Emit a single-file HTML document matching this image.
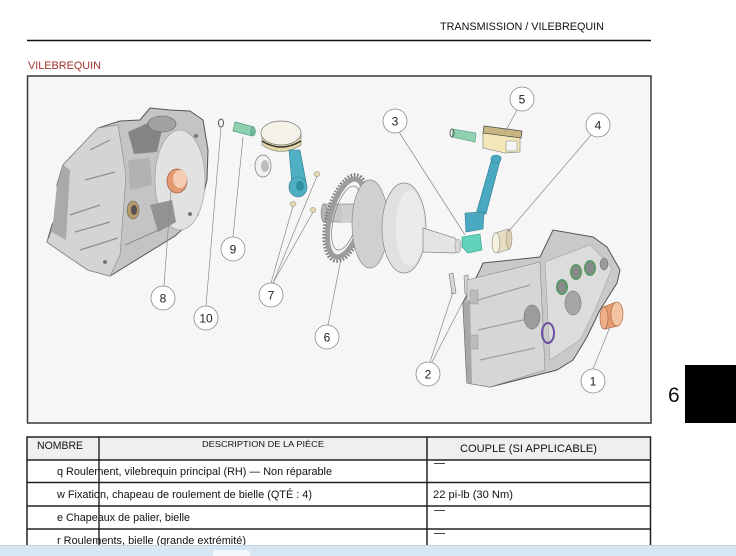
<!DOCTYPE html>
<html><head><meta charset="utf-8"><style>
html,body{margin:0;padding:0;background:#fff;}
svg{display:block;font-family:"Liberation Sans",Arial,sans-serif;}
</style></head><body>
<svg width="736" height="556" viewBox="0 0 736 556" xmlns="http://www.w3.org/2000/svg">
<rect width="736" height="556" fill="#fff"/>
<!-- header -->
<text x="440" y="30" font-size="11" fill="#111" textLength="164" lengthAdjust="spacingAndGlyphs">TRANSMISSION / VILEBREQUIN</text>
<line x1="27" y1="40.5" x2="651" y2="40.5" stroke="#111" stroke-width="1.4"/>
<text x="28" y="69" font-size="11" fill="#a3332b" textLength="73" lengthAdjust="spacingAndGlyphs">VILEBREQUIN</text>

<!-- frame -->
<rect x="27.5" y="76" width="623.5" height="347" fill="#f6f6f6" stroke="#3a3a3a" stroke-width="1.5"/>

<!-- LEFT CRANKCASE -->
<path d="M63,165 L98,128 L120,121 L140,120 L150,108 L170,110 L190,111 L203,120 L208,150 L207,180 L198,215 L175,236 L110,276 L88,270 L70,258 L47,242 L52,225 L60,210 L57,185 Z" fill="#c4c4c4" stroke="#555" stroke-width="1"/>
<path d="M63,165 L98,128 L118,125 L126,175 L120,255 L110,276 L88,270 L70,258 L47,242 L60,210 Z" fill="#d4d4d4" stroke="#888" stroke-width="0.6"/>
<path d="M57,185 L63,165 L70,170 L66,240 L52,232 Z" fill="#aaaaaa"/>
<ellipse cx="180" cy="180" rx="25" ry="50" fill="#e2e2e2" stroke="#999" stroke-width="0.6"/>
<path d="M128,132 L150,122 L162,130 L157,152 L134,154 Z" fill="#858585"/>
<ellipse cx="162" cy="124" rx="14" ry="8" fill="#a2a2a2" stroke="#666" stroke-width="0.6"/>
<path d="M150,205 L172,200 L176,222 L158,232 Z" fill="#939393"/>
<path d="M128,160 L150,158 L152,185 L130,190 Z" fill="#b2b2b2"/>
<path d="M70,215 L100,205 M75,232 L110,222 M80,250 L118,238 M125,245 L170,225 M90,150 L110,140 M85,180 L115,172" stroke="#8f8f8f" stroke-width="1.2" fill="none"/>
<ellipse cx="133" cy="210" rx="6" ry="9" fill="#b49a6a" stroke="#666" stroke-width="0.6"/>
<ellipse cx="134" cy="210" rx="3" ry="5" fill="#555"/>
<circle cx="105" cy="262" r="2" fill="#777"/>
<circle cx="190" cy="214" r="2" fill="#777"/>
<circle cx="196" cy="136" r="2" fill="#777"/>
<ellipse cx="177" cy="181" rx="10" ry="12" fill="#e39a72" stroke="#a4603e" stroke-width="0.7"/>
<ellipse cx="180" cy="179" rx="7" ry="9" fill="#f5cdb2"/>

<!-- ring 10, pin 9 -->
<ellipse cx="221" cy="123" rx="2.5" ry="4" fill="none" stroke="#555" stroke-width="1"/>
<path d="M235,122 L254,127 L252,136 L233,131 Z" fill="#8fd0b0" stroke="#4a9a7c" stroke-width="0.7"/>
<ellipse cx="253" cy="131.5" rx="2.5" ry="4.5" fill="#6fb898" stroke="#4a9a7c" stroke-width="0.5"/>

<!-- left piston & rod -->
<path d="M262,134 L262,145 Q281,158 301,145 L301,134 Z" fill="#e6d7a8" stroke="#777" stroke-width="0.6"/>
<path d="M262,141 Q281,153 301,141" fill="none" stroke="#333" stroke-width="1.5"/>
<ellipse cx="281" cy="133" rx="20" ry="12" fill="#f5f2ea" stroke="#777" stroke-width="0.7"/>
<ellipse cx="263" cy="166" rx="8" ry="11" fill="#f2f2f2" stroke="#777" stroke-width="0.7"/>
<ellipse cx="265" cy="166" rx="4" ry="6" fill="#bdbdbd"/>
<path d="M289,150 L300,150 L306,182 L292,184 Z" fill="#4fb0c4" stroke="#2a7a8a" stroke-width="0.6"/>
<ellipse cx="298" cy="187" rx="9" ry="10" fill="#4fb0c4" stroke="#2a7a8a" stroke-width="0.6"/>
<ellipse cx="300" cy="186" rx="4" ry="5" fill="#2f8ea2"/>
<ellipse cx="317" cy="174" rx="3" ry="2.5" fill="#e3d6b0" stroke="#888" stroke-width="0.5"/>
<ellipse cx="293" cy="204" rx="3" ry="2.5" fill="#e3d6b0" stroke="#888" stroke-width="0.5"/>
<ellipse cx="313" cy="210" rx="3" ry="2.5" fill="#e3d6b0" stroke="#888" stroke-width="0.5"/>

<!-- shaft behind sprocket -->
<rect x="323" y="204" width="34" height="18" fill="#c8c8c8" stroke="#888" stroke-width="0.6"/>
<ellipse cx="324" cy="213" rx="3" ry="9" fill="#b5b5b5" stroke="#777" stroke-width="0.5"/>
<!-- sprocket -->
<g transform="rotate(15 346 218)">
<ellipse cx="346" cy="218" rx="19" ry="44" fill="none" stroke="#7d7d7d" stroke-width="4" stroke-dasharray="1.6 1.6"/>
<ellipse cx="346" cy="218" rx="16" ry="40" fill="none" stroke="#9c9c9c" stroke-width="5"/>
<ellipse cx="346" cy="218" rx="12" ry="33" fill="none" stroke="#777" stroke-width="0.7"/>
</g>
<rect x="342" y="205" width="15" height="17" fill="#cfcfcf"/>
<!-- crank webs -->
<ellipse cx="370" cy="224" rx="18" ry="44" fill="#d0d0d0" stroke="#888" stroke-width="0.7"/>
<ellipse cx="404" cy="228" rx="22" ry="45" fill="#e0e0e0" stroke="#888" stroke-width="0.7"/>
<ellipse cx="410" cy="228" rx="14" ry="38" fill="#ebebeb"/>
<path d="M423,228 L455,238 L460,248 L455,253 L423,252 Z" fill="#e4e4e4" stroke="#888" stroke-width="0.7"/>
<ellipse cx="458" cy="246" rx="3" ry="7" fill="#d8d8d8" stroke="#888" stroke-width="0.5"/>

<!-- right piston -->
<path d="M453,129 L476,133 L475,142 L452,137 Z" fill="#8fd0b0" stroke="#4a9a7c" stroke-width="0.6"/>
<ellipse cx="452" cy="133" rx="2" ry="4" fill="none" stroke="#555" stroke-width="0.9"/>
<path d="M483,133 L520,137 L520,152 L505,153 L483,148 Z" fill="#f3e7b8" stroke="#777" stroke-width="0.6"/>
<path d="M484,126 L522,131 L521,138 L483,133 Z" fill="#c7b682" stroke="#444" stroke-width="0.7"/>
<rect x="506" y="141" width="11" height="10" fill="#f4f4f4" stroke="#888" stroke-width="0.5"/>
<!-- rod -->
<path d="M492,158 L501,157 L486,214 L476,214 Z" fill="#4aa9c0" stroke="#2b7e92" stroke-width="0.6"/>
<ellipse cx="496" cy="159" rx="5" ry="4" fill="#4aa9c0" stroke="#2b7e92" stroke-width="0.6"/>
<path d="M465,213 L484,212 L483,229 L466,232 Z" fill="#4aa9c0" stroke="#2b7e92" stroke-width="0.6"/>
<path d="M462,237 L480,234 L482,250 L468,253 L462,247 Z" fill="#62d2bc" stroke="#2f9a88" stroke-width="0.6"/>
<!-- bearing 4 -->
<path d="M495,233 L508,229 L510,249 L497,253 Z" fill="#e8dfc0" stroke="#888" stroke-width="0.6"/>
<ellipse cx="496" cy="243" rx="4" ry="10" fill="#f6f1df" stroke="#888" stroke-width="0.6"/>
<ellipse cx="509" cy="239" rx="3" ry="10" fill="#d9cfae" stroke="#888" stroke-width="0.5"/>
<!-- pins 2 -->
<path d="M449,274 L453,273 L456,293 L452,294 Z" fill="#d8d8d8" stroke="#777" stroke-width="0.6"/>
<path d="M464,276 L468,275 L469,294 L465,294 Z" fill="#d8d8d8" stroke="#777" stroke-width="0.6"/>

<!-- RIGHT CRANKCASE -->
<path d="M483,263 L540,257 L553,230 L593,237 L607,247 L620,270 L617,283 L600,310 L587,337 L573,360 L557,370 L490,387 L467,383 L463,303 L480,270 Z" fill="#c9c9c9" stroke="#555" stroke-width="1"/>
<path d="M467,280 L540,262 L545,370 L490,387 L467,383 Z" fill="#d6d6d6" stroke="#888" stroke-width="0.6"/>
<path d="M463,303 L470,300 L472,384 L467,383 Z" fill="#a8a8a8"/>
<path d="M545,262 L590,245 L612,268 L595,310 L580,340 L550,360 Z" fill="#dcdcdc" stroke="#999" stroke-width="0.5"/>
<path d="M478,300 L530,285 M478,330 L532,318 M480,360 L535,348" stroke="#9f9f9f" stroke-width="1.2" fill="none"/>
<rect x="470" y="290" width="8" height="14" fill="#bcbcbc" stroke="#888" stroke-width="0.4"/>
<rect x="470" y="335" width="8" height="14" fill="#bcbcbc" stroke="#888" stroke-width="0.4"/>
<ellipse cx="532" cy="317" rx="8" ry="12" fill="#9c9c9c" stroke="#666" stroke-width="0.5"/>
<ellipse cx="573" cy="303" rx="8" ry="12" fill="#a6a6a6" stroke="#666" stroke-width="0.5"/>
<ellipse cx="562" cy="287" rx="5" ry="7" fill="#8a8a8a" stroke="#5a9a6a" stroke-width="2"/>
<ellipse cx="576" cy="272" rx="5" ry="7" fill="#8a8a8a" stroke="#5a9a6a" stroke-width="2"/>
<ellipse cx="590" cy="268" rx="5" ry="7" fill="#8a8a8a" stroke="#5a9a6a" stroke-width="2"/>
<ellipse cx="604" cy="264" rx="4" ry="6" fill="#9a9a9a" stroke="#666" stroke-width="0.5"/>
<ellipse cx="548" cy="333" rx="6" ry="10" fill="none" stroke="#6a50a0" stroke-width="2"/>
<!-- bearing 1 -->
<path d="M603,307 L616,302 L618,326 L605,329 Z" fill="#e39a6e" stroke="#a4603e" stroke-width="0.6"/>
<ellipse cx="604" cy="318" rx="4" ry="11" fill="#eeb08a" stroke="#a4603e" stroke-width="0.6"/>
<ellipse cx="617" cy="314" rx="6" ry="12" fill="#f3c4a2" stroke="#a4603e" stroke-width="0.6"/>

<!-- leader lines -->
<g stroke="#8a8a8a" stroke-width="0.7" fill="none">
<line x1="593" y1="369" x2="610" y2="327"/>
<line x1="430" y1="362" x2="453" y2="292"/>
<line x1="432" y1="362" x2="467" y2="294"/>
<line x1="399" y1="132" x2="465" y2="235"/>
<line x1="591" y1="135" x2="508" y2="232"/>
<line x1="517" y1="110" x2="505" y2="132"/>
<line x1="328" y1="325" x2="341" y2="259"/>
<line x1="273" y1="283" x2="317" y2="176"/>
<line x1="271" y1="283" x2="293" y2="206"/>
<line x1="273" y1="283" x2="313" y2="212"/>
<line x1="164" y1="286" x2="171" y2="190"/>
<line x1="233" y1="237" x2="243" y2="137"/>
<line x1="206" y1="306" x2="221" y2="127"/>
</g>

<!-- callouts -->
<g fill="#fff" stroke="#8a8a8a" stroke-width="0.8">
<circle cx="593" cy="381" r="12"/>
<circle cx="428" cy="374" r="12"/>
<circle cx="395" cy="121" r="12"/>
<circle cx="598" cy="125" r="12"/>
<circle cx="522" cy="99" r="12"/>
<circle cx="327" cy="337" r="12"/>
<circle cx="271" cy="295" r="12"/>
<circle cx="163" cy="298" r="12"/>
<circle cx="233" cy="249" r="12"/>
<circle cx="206" cy="318" r="12"/>
</g>
<g font-size="12" fill="#222" text-anchor="middle">
<text x="593" y="385.5">1</text>
<text x="428" y="378.5">2</text>
<text x="395" y="125.5">3</text>
<text x="598" y="129.5">4</text>
<text x="522" y="103.5">5</text>
<text x="327" y="341.5">6</text>
<text x="271" y="299.5">7</text>
<text x="163" y="302.5">8</text>
<text x="233" y="253.5">9</text>
<text x="206" y="322.5">10</text>
</g>

<!-- side tab -->
<text x="668" y="402" font-size="21" fill="#111">6</text>
<rect x="685" y="365" width="51" height="58" fill="#000"/>

<!-- TABLE -->
<rect x="27" y="437" width="624" height="23" fill="#efefef"/>
<g stroke="#222" stroke-width="1.5" fill="none">
<line x1="27" y1="437" x2="651" y2="437"/>
<line x1="27" y1="460" x2="651" y2="460"/>
<line x1="27" y1="482.5" x2="651" y2="482.5"/>
<line x1="27" y1="506" x2="651" y2="506"/>
<line x1="27" y1="529" x2="651" y2="529"/>
<line x1="27" y1="436.3" x2="27" y2="556"/>
<line x1="650.5" y1="436.3" x2="650.5" y2="556"/>
<line x1="427" y1="437" x2="427" y2="556"/>
</g>
<line x1="99" y1="437" x2="99" y2="556" stroke="#111" stroke-width="1.3"/>
<g font-size="11" fill="#111">
<text x="37" y="449" textLength="46" lengthAdjust="spacingAndGlyphs">NOMBRE</text>
<text x="460" y="452" textLength="137" lengthAdjust="spacingAndGlyphs">COUPLE (SI APPLICABLE)</text>
<text x="57" y="475" textLength="275" lengthAdjust="spacingAndGlyphs">q Roulement, vilebrequin principal (RH) — Non réparable</text>
<text x="57" y="498" textLength="255" lengthAdjust="spacingAndGlyphs">w Fixation, chapeau de roulement de bielle (QTÉ : 4)</text>
<text x="57" y="521" textLength="133" lengthAdjust="spacingAndGlyphs">e Chapeaux de palier, bielle</text>
<text x="57" y="544" textLength="189" lengthAdjust="spacingAndGlyphs">r Roulements, bielle (grande extrémité)</text>
<text x="433" y="498" textLength="80" lengthAdjust="spacingAndGlyphs">22 pi-lb (30 Nm)</text>
</g>
<text x="202" y="447" font-size="8.5" fill="#111" textLength="122" lengthAdjust="spacingAndGlyphs">DESCRIPTION DE LA PIÈCE</text>
<g stroke="#444" stroke-width="1">
<line x1="434" y1="463.5" x2="445" y2="463.5"/>
<line x1="434" y1="510.5" x2="445" y2="510.5"/>
<line x1="434" y1="533.5" x2="445" y2="533.5"/>
</g>

<!-- bottom bar -->
<rect x="0" y="545" width="736" height="11" fill="#d6e6f3"/>
<line x1="0" y1="545.5" x2="736" y2="545.5" stroke="#c2d3e2" stroke-width="1"/>
<rect x="213" y="550" width="37" height="10" rx="3" fill="#f3f7fb"/>
</svg>
</body></html>
